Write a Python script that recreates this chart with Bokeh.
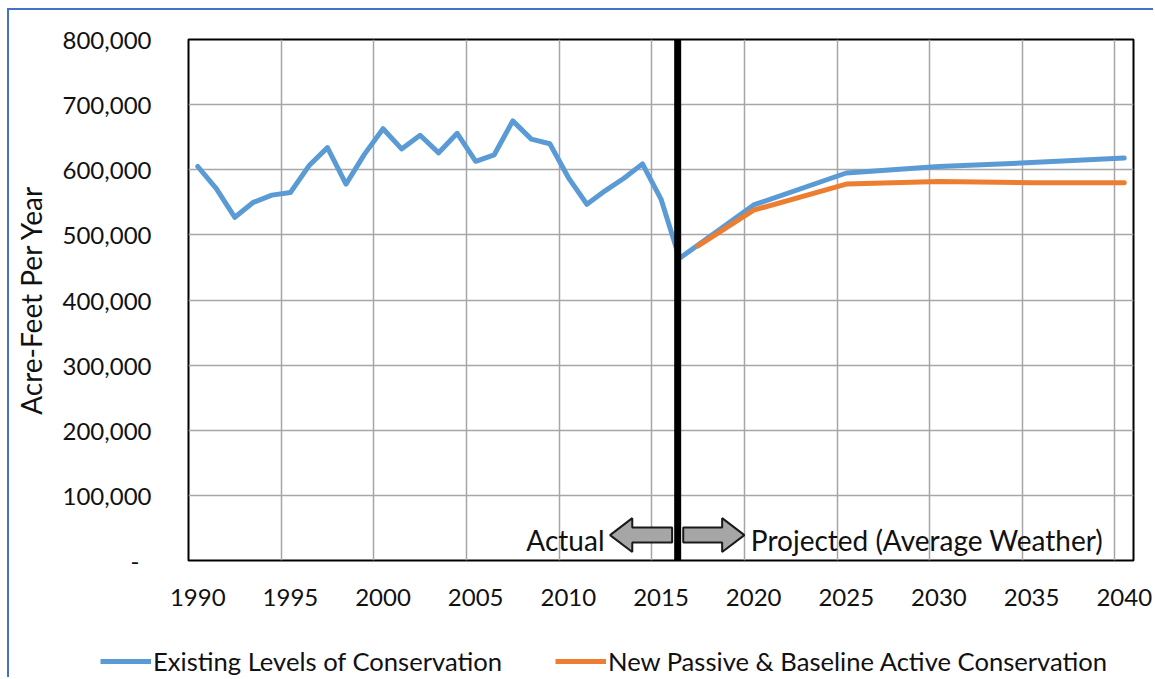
from bokeh.plotting import figure
from bokeh.models import (FixedTicker, Span, Legend, LegendItem, NumeralTickFormatter,
                          Range1d, Label)
from bokeh.embed import file_html
from bokeh.resources import INLINE

# ---------------- data ----------------
hist_years = list(range(1990, 2017))
hist_values = [605000, 571000, 527000, 550000, 561000, 565000, 606000, 634000, 578000,
               624000, 663000, 632000, 653000, 626000, 656000, 613000, 623000, 675000,
               647000, 640000, 588000, 547000, 568000, 587000, 609000, 555000, 464000]
proj_years = [2020, 2025, 2030, 2035, 2040]
existing_proj = [546000, 595000, 605000, 611000, 618000]
new_years = [2017, 2020, 2025, 2030, 2035, 2040]
new_values = [483000, 538000, 578000, 582000, 580000, 580000]

x_tick_years = [1990, 1995, 2000, 2005, 2010, 2015, 2020, 2025, 2030, 2035, 2040]
y_ticks = [0, 100000, 200000, 300000, 400000, 500000, 600000, 700000, 800000]
series_names = ["Existing Levels of Conservation", "New Passive & Baseline Active Conservation"]
y_title = "Acre-Feet Per Year"
actual_text = "Actual"
projected_text = "Projected (Average Weather)"
DIVIDER_YEAR = 2015.9

BLUE = "#5B9BD5"
ORANGE = "#ED7D31"
FONT = "Lato"
BORDER = "2px solid #4472C4"

existing_years = hist_years + proj_years
existing_values = hist_values + existing_proj

p = figure(width=1146, height=630, output_backend="svg", toolbar_location=None,
           x_range=Range1d(1989.5, 2040.5), y_range=Range1d(0, 800000),
           min_border_left=179, min_border_right=22, min_border_top=29, min_border_bottom=80)
p.styles = {"margin-left": "7px", "margin-top": "8px",
            "border-top": BORDER, "border-left": BORDER}
p.outline_line_color = "black"
p.outline_line_width = 2
p.background_fill_color = "white"
p.border_fill_color = "white"

# axes
p.xaxis.ticker = FixedTicker(ticks=x_tick_years)
p.xgrid.ticker = FixedTicker(ticks=[y - 0.5 for y in x_tick_years])
p.yaxis.ticker = FixedTicker(ticks=y_ticks)
p.yaxis.formatter = NumeralTickFormatter(format="0,0")
p.yaxis.major_label_overrides = {0: "-\u2002"}
for ax in (p.xaxis[0], p.yaxis[0]):
    ax.axis_line_color = None
    ax.major_tick_line_color = None
    ax.minor_tick_line_color = None
    ax.major_label_text_font = FONT
    ax.major_label_text_font_size = "24px"
    ax.major_label_text_color = "#111111"
p.xaxis.major_label_standoff = 22
p.yaxis.major_label_standoff = 31
p.yaxis.axis_label = y_title
p.yaxis.axis_label_text_font = FONT
p.yaxis.axis_label_text_font_size = "28px"
p.yaxis.axis_label_text_font_style = "normal"
p.yaxis.axis_label_text_color = "#111111"
p.yaxis.axis_label_standoff = 12

for g in (p.xgrid[0], p.ygrid[0]):
    g.grid_line_color = "#A6A6A6"
    g.grid_line_width = 1.5

# lines
p.line(existing_years, existing_values, line_color=BLUE, line_width=5,
       line_join="round", line_cap="round")
p.line(new_years, new_values, line_color=ORANGE, line_width=5,
       line_join="round", line_cap="round")

# divider
p.add_layout(Span(location=DIVIDER_YEAR, dimension="height", line_color="black", line_width=7))

# block arrows
yc, hh, bh = 39000, 26000, 11500
d = DIVIDER_YEAR
lx = [d - 0.3, d - 2.45, d - 2.45, d - 3.65, d - 2.45, d - 2.45, d - 0.3]
ly = [yc + bh, yc + bh, yc + hh, yc, yc - hh, yc - bh, yc - bh]
rx = [d + 0.3, d + 2.4, d + 2.4, d + 3.6, d + 2.4, d + 2.4, d + 0.3]
p.patch(lx, ly, fill_color="#A6A6A6", line_color="#1a1a1a", line_width=2)
p.patch(rx, ly, fill_color="#A6A6A6", line_color="#1a1a1a", line_width=2)

p.add_layout(Label(x=d - 3.95, y=32000, text=actual_text, text_align="right",
                   text_baseline="middle", text_font=FONT, text_font_size="28px",
                   text_color="#111111"))
p.add_layout(Label(x=d + 3.95, y=32000, text=projected_text, text_align="left",
                   text_baseline="middle", text_font=FONT, text_font_size="28px",
                   text_color="#111111"))

# legend strip: separate root directly below the chart
lg = figure(width=1146, height=39, output_backend="svg", toolbar_location=None,
            x_axis_location=None, y_axis_location=None,
            x_range=Range1d(0, 1), y_range=Range1d(0, 1),
            min_border_left=0, min_border_right=0, min_border_top=0, min_border_bottom=0)
lg.styles = {"margin-left": "7px", "border-left": BORDER}
lg.outline_line_color = None
lg.grid.visible = False
lg.background_fill_color = "white"
lg.border_fill_color = "white"
# legend-only renderers (kept outside the visible range)
d1 = lg.line([2, 3], [2, 2], line_color=BLUE, line_width=5)
d2 = lg.line([2, 3], [2, 2], line_color=ORANGE, line_width=5)
legend = Legend(items=[LegendItem(label=series_names[0], renderers=[d1]),
                       LegendItem(label=series_names[1], renderers=[d2])],
                orientation="horizontal", location=(91, 1),
                glyph_width=51, glyph_height=20, label_height=20, label_standoff=2,
                spacing=53, padding=0, margin=0, border_line_color=None,
                background_fill_alpha=0, label_text_font=FONT,
                label_text_font_size="25.6px", label_text_color="#111111")
lg.add_layout(legend)

open("out.html", "w").write(file_html([p, lg], INLINE))
